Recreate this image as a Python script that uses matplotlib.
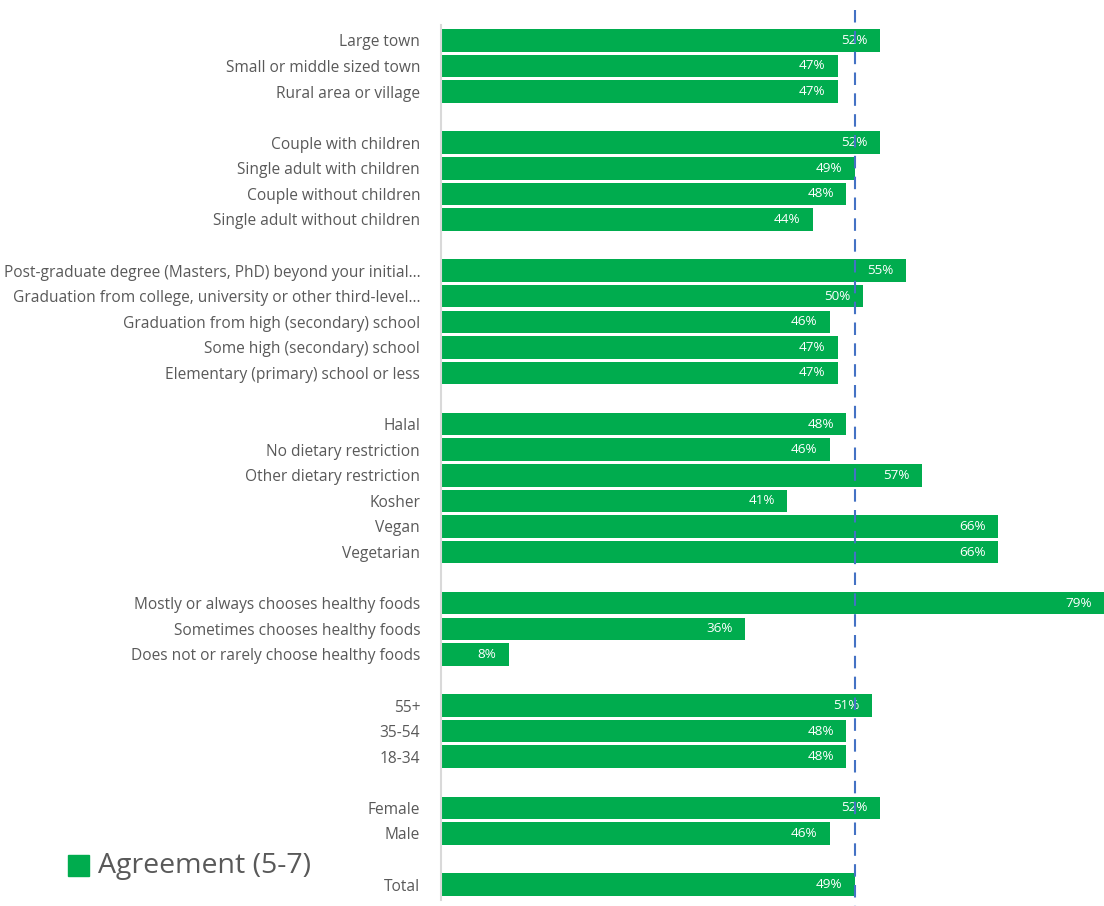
import matplotlib
matplotlib.use("Agg")
import matplotlib.pyplot as plt
from matplotlib.patches import Rectangle

# Groups of categories (top to bottom) and their agreement shares (%)
residence = ["Large town", "Small or middle sized town", "Rural area or village"]
residence_vals = [52, 47, 47]

household = ["Couple with children", "Single adult with children",
             "Couple without children", "Single adult without children"]
household_vals = [52, 49, 48, 44]

education = ["Post-graduate degree (Masters, PhD) beyond your initial\u2026",
             "Graduation from college, university or other third-level\u2026",
             "Graduation from high (secondary) school",
             "Some high (secondary) school",
             "Elementary (primary) school or less"]
education_vals = [55, 50, 46, 47, 47]

diet = ["Halal", "No dietary restriction", "Other dietary restriction",
        "Kosher", "Vegan", "Vegetarian"]
diet_vals = [48, 46, 57, 41, 66, 66]

healthy = ["Mostly or always chooses healthy foods",
           "Sometimes chooses healthy foods",
           "Does not or rarely choose healthy foods"]
healthy_vals = [79, 36, 8]

age = ["55+", "35-54", "18-34"]
age_vals = [51, 48, 48]

gender = ["Female", "Male"]
gender_vals = [52, 46]

total = ["Total"]
total_vals = [49]

groups = [(residence, residence_vals), (household, household_vals),
          (education, education_vals), (diet, diet_vals),
          (healthy, healthy_vals), (age, age_vals),
          (gender, gender_vals), (total, total_vals)]

GREEN = "#00AC4E"
BLUE = "#4472C4"
TEXT = "#595959"

plt.rcParams["font.family"] = ["Open Sans", "DejaVu Sans"]

fig = plt.figure(figsize=(11.04, 9.06), dpi=100)
ax = fig.add_axes([441 / 1104, 6 / 906, 1 - 441 / 1104, (900 - 25) / 906])

labels, values, positions = [], [], []
slot = 0
for names, vals in groups:
    for n, v in zip(names, vals):
        labels.append(n)
        values.append(v)
        positions.append(slot)
        slot += 1
    slot += 1  # blank row between groups

ax.barh(positions, values, height=0.88, color=GREEN, edgecolor="none")

xmax = 78.5
for p, v in zip(positions, values):
    ax.annotate(f"{v}%", xy=(min(v, xmax), p), xytext=(-9, 0),
                textcoords="offset points", ha="right", va="center",
                color="white", fontsize=9.7)

# Reference line at the overall total, running past the plot area
ax.plot([total_vals[0], total_vals[0]], [-1.2, positions[-1] + 0.85],
        color=BLUE, linestyle=(0, (6, 4)), linewidth=1.5, clip_on=False,
        zorder=3)

ax.set_xlim(0, xmax)
ax.set_ylim(positions[-1] + 0.6, -0.6)
ax.set_yticks(positions)
ax.set_yticklabels(labels, color=TEXT, fontsize=11.2)
ax.tick_params(axis="y", length=0, pad=15)
ax.set_xticks([])

for s in ["top", "right", "bottom"]:
    ax.spines[s].set_visible(False)
ax.spines["left"].set_color("#d9d9d9")
ax.spines["left"].set_linewidth(1.5)

# Legend entry
fig.patches.append(Rectangle((68 / 1104, (906 - 876) / 906), 21 / 1104, 21 / 906,
                             transform=fig.transFigure, color=GREEN))
fig.text(98 / 1104, (906 - 866) / 906, "Agreement (5-7)", color=TEXT,
         fontsize=20.5, va="center", ha="left")

fig.savefig("out.png", dpi=100)
